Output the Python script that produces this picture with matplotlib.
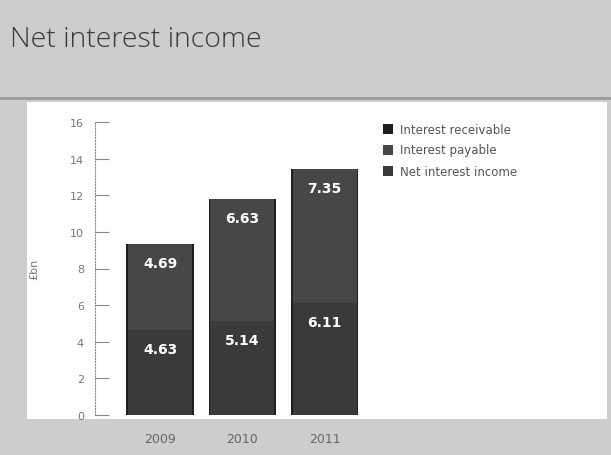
import matplotlib
matplotlib.use("Agg")
import matplotlib.pyplot as plt
from matplotlib.patches import Rectangle
from matplotlib.lines import Line2D

years = ["2009", "2010", "2011"]
net_interest_income = [4.63, 5.14, 6.11]
interest_payable = [4.69, 6.63, 7.35]
interest_receivable = [n + p for n, p in zip(net_interest_income, interest_payable)]
y_ticks = [0, 2, 4, 6, 8, 10, 12, 14, 16]
series_names = ["Interest receivable", "Interest payable", "Net interest income"]

W, H = 611, 456
fig = plt.figure(figsize=(W / 100, H / 100), dpi=100, facecolor="#cdcdcd")

# white chart panel and the rule under the title
fig.patches.append(Rectangle((27 / W, 1 - 420 / H), 580 / W, 317 / H,
                             transform=fig.transFigure, facecolor="white",
                             edgecolor="none", zorder=-2))
fig.lines.append(Line2D([0, 1], [1 - 99 / H, 1 - 99 / H], transform=fig.transFigure,
                        color="#9a9a9a", lw=2, zorder=-1))

fig.text(10 / W, 1 - 40 / H, "Net interest income", fontsize=20.5, color="#3a3a3a",
         family="Open Sans", fontweight="light", va="center", ha="left")

ax = fig.add_axes([95 / W, 40 / H, 275 / W, 293 / H])
ax.set_facecolor("none")
x = list(range(len(years)))
bw = 0.78

ax.bar(x, interest_receivable, width=bw + 0.04, color="#1e1e1e", zorder=2)
b_net = ax.bar(x, net_interest_income, width=bw, color="#3a3a3a", zorder=3)
b_pay = ax.bar(x, interest_payable, bottom=net_interest_income, width=bw,
               color="#474747", zorder=3)

for xi, n, p in zip(x, net_interest_income, interest_payable):
    for val, top in ((n, n), (p, n + p)):
        ax.annotate(f"{val:.2f}", (xi, top), xytext=(0, -19), textcoords="offset pixels",
                    ha="center", va="center", color="white", fontsize=10,
                    fontweight="bold", zorder=5)

ax.set_xlim(-0.79, 2.55)
ax.set_ylim(0, 16)
ax.set_yticks(y_ticks)
ax.set_yticklabels([str(t) for t in y_ticks], fontsize=8, color="#777777")
ax.tick_params(axis="y", direction="in", length=10, color="#888888", pad=8)
ax.set_xticks(x)
ax.set_xticklabels(years, fontsize=9, color="#666666")
ax.tick_params(axis="x", length=0, pad=12)
for s in ("top", "right", "bottom"):
    ax.spines[s].set_visible(False)
ax.spines["left"].set_linestyle(":")
ax.spines["left"].set_color("#888888")
ax.set_ylabel("£bn", fontsize=8, color="#777777", labelpad=22)

# legend
leg_colors = ["#1e1e1e", "#474747", "#3a3a3a"]
for i, (name, c) in enumerate(zip(series_names, leg_colors)):
    yy = 1 - (130 + i * 21) / H
    fig.patches.append(Rectangle((383 / W, yy - 5 / H), 10 / W, 10 / H,
                                 transform=fig.transFigure, facecolor=c,
                                 edgecolor="none"))
    fig.text(400 / W, yy, name, fontsize=8.5, color="#555555", va="center")

fig.savefig("out.png", dpi=100, facecolor=fig.get_facecolor())
